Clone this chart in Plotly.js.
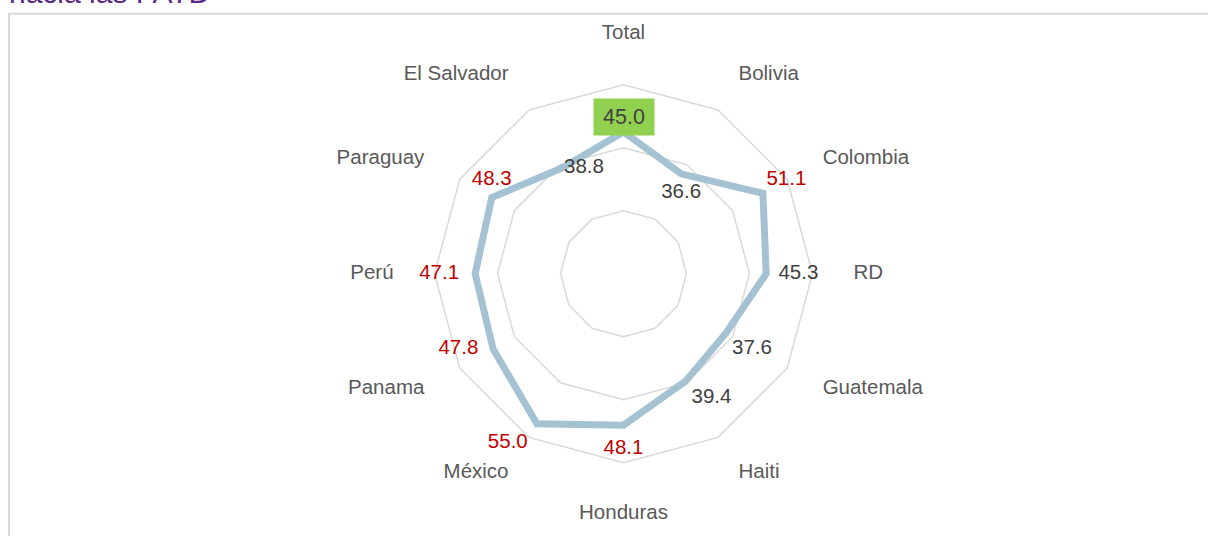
<!DOCTYPE html>
<html>
<head>
<meta charset="utf-8">
<script src="https://cdn.plot.ly/plotly-3.0.1.min.js"></script>
<style>html,body{margin:0;padding:0;background:#fff;}#chart{width:1208px;height:536px;}</style>
</head>
<body>
<div id="chart"></div>
<script>
// ---- data ----
const categories = ['Total','Bolivia','Colombia','RD','Guatemala','Haiti','Honduras','México','Panama','Perú','Paraguay','El Salvador'];
const values = [45.0, 36.6, 51.1, 45.3, 37.6, 39.4, 48.1, 55.0, 47.8, 47.1, 48.3, 38.8];
const titleText = 'hacia las FATD';
const radialTicks = [20, 40, 60];

// ---- styles ----
const FONT = '"Liberation Sans Narrow", "Arial Narrow", "Liberation Sans", Arial, sans-serif';
const FS = 20.5;
const RED = '#c00000', DARK = '#404040', GRAY = '#595959';
const labelColors = [DARK, DARK, RED, DARK, DARK, DARK, RED, RED, RED, RED, RED, DARK];
const labelPos = ['top center','bottom center','top right','middle right','bottom right','bottom right','bottom center','bottom left','middle left','middle left','top center','middle right'];
const labelGap = [0, 13, 4, 18, 8, 8, 20, 13, 22, 24, 10, 1];
const catPos = ['top center','middle right','middle right','middle right','middle right','middle right','bottom center','middle left','middle left','middle left','middle left','middle left'];
const CAT_R = 73;
const R_MAX = 80;

// polar geometry (paper px)
const W = 1208, H = 536;
const CX = 623.5, CY = 273.7, RPX = 252;
const domX = [(CX - RPX) / W, (CX + RPX) / W];
const domY = [1 - (CY + RPX) / H, 1 - (CY - RPX) / H];

const closedR = values.concat([values[0]]);
const closedT = categories.concat([categories[0]]);

const traces = [
  {
    type: 'scatterpolar', mode: 'lines',
    r: closedR, theta: closedT,
    line: {color: '#a5c2d3', width: 7},
    hoverinfo: 'skip', showlegend: false
  },
  {
    type: 'scatterpolar', mode: 'markers+text',
    r: values, theta: categories,
    text: values.map((v, i) => i === 0 ? '' : v.toFixed(1)),
    textposition: labelPos,
    textfont: {family: FONT, size: FS, color: labelColors},
    marker: {size: labelGap, opacity: 0},
    hoverinfo: 'skip', showlegend: false, cliponaxis: false
  },
  {
    type: 'scatterpolar', mode: 'text',
    r: categories.map(() => CAT_R), theta: categories,
    text: categories,
    textposition: catPos,
    textfont: {family: FONT, size: FS, color: GRAY},
    hoverinfo: 'skip', showlegend: false, cliponaxis: false
  }
];

// Total highlighted label position derived from the value
const totalPxR = values[0] / R_MAX * RPX;
const totalY = 1 - (CY - totalPxR) / H;

const layout = {
  width: W, height: H,
  margin: {l: 0, r: 0, t: 0, b: 0},
  paper_bgcolor: '#ffffff',
  showlegend: false,
  polar: {
    domain: {x: domX, y: domY},
    bgcolor: 'rgba(0,0,0,0)',
    gridshape: 'linear',
    radialaxis: {
      range: [0, R_MAX], tickvals: radialTicks, showticklabels: false,
      ticks: '', showline: false, gridcolor: '#d9d9d9', gridwidth: 1.5
    },
    angularaxis: {
      type: 'category', categoryorder: 'array', categoryarray: categories,
      direction: 'clockwise', rotation: 90,
      showgrid: false, showline: false, showticklabels: false, ticks: ''
    }
  },
  shapes: [{
    type: 'rect', xref: 'paper', yref: 'paper', layer: 'below',
    x0: 9 / W, x1: 1.02, y0: -0.02, y1: 1 - 13.7 / H,
    line: {color: '#d9d9d9', width: 2}, fillcolor: 'rgba(0,0,0,0)'
  }],
  annotations: [
    {
      xref: 'paper', yref: 'paper', x: 7 / W, y: 1 - 10.5 / H,
      xanchor: 'left', yanchor: 'bottom', showarrow: false,
      text: titleText,
      font: {family: '"Liberation Sans", Arial, sans-serif', size: 30, color: '#5b2a86'}
    },
    {
      xref: 'paper', yref: 'paper', x: CX / W, y: totalY,
      xanchor: 'center', yanchor: 'bottom', yshift: -4, showarrow: false,
      text: values[0].toFixed(1), width: 60, height: 36,
      bgcolor: '#92d050', borderpad: 0,
      font: {family: FONT, size: FS + 1, color: DARK}
    }
  ]
};

Plotly.newPlot('chart', traces, layout, {displayModeBar: false, staticPlot: true});
</script>
</body>
</html>
